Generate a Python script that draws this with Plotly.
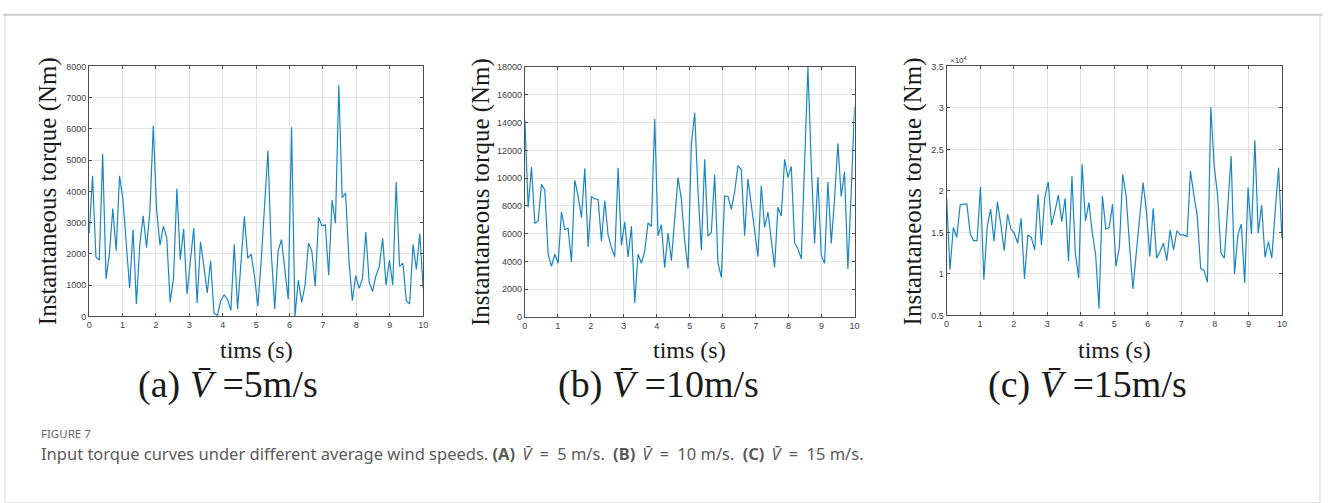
import numpy as np
import plotly.graph_objects as go

W, H = 1328, 503

# sample times (100 samples over 0-10 s)
t = np.linspace(0, 10, 100)

torque_a = [2650, 4500, 1900, 1800, 5200, 1200, 2000, 3450, 2100, 4500,
            3750, 2400, 900, 2780, 400, 2280, 3220, 2200, 3380, 6100,
            3400, 2280, 2890, 2510, 450, 1230, 4090, 1810, 2800, 710,
            1800, 2830, 420, 2390, 1600, 750, 1780, 100, 30, 500,
            690, 550, 190, 2300, 240, 1800, 3200, 1860, 1990, 1300,
            330, 1800, 3500, 5310, 2000, 240, 2090, 2460, 1500, 550,
            6050, 0, 1160, 450, 1000, 2350, 2090, 970, 3170, 2900,
            2930, 1320, 3720, 2980, 7400, 3800, 3950, 1800, 500, 1300,
            900, 1200, 2700, 1100, 800, 1300, 1600, 2500, 1000, 1800,
            1000, 4300, 1600, 1700, 500, 400, 2300, 1500, 2650, 900]

torque_b = [14200, 7880, 10800, 6750, 6900, 9550, 9150, 4520, 3650, 4520,
            3870, 7550, 6300, 6380, 3950, 9850, 8700, 7150, 10700, 5050,
            8650, 8500, 8480, 5450, 8380, 5900, 5000, 4330, 10750, 5150,
            6850, 4320, 6530, 1000, 4530, 3870, 4750, 6780, 6520, 14250,
            5850, 6650, 3550, 6050, 4050, 7000, 10050, 8470, 5500, 3500,
            12450, 14700, 9000, 4800, 11350, 5820, 6100, 10250, 3900, 2850,
            8720, 8680, 7750, 9000, 10900, 10600, 5850, 9950, 8000, 6200,
            4350, 9450, 6450, 7550, 5500, 3580, 7900, 7270, 11350, 10050,
            10850, 5350, 4920, 4180, 11000, 18000, 11000, 5300, 10080, 4450,
            3860, 9720, 5300, 8500, 12500, 8680, 10450, 3450, 9000, 15150]

torque_c = [19200, 10500, 15600, 14400, 18300, 18400, 18400, 14800, 14000, 14000,
            20500, 9300, 15700, 17800, 13900, 18700, 16000, 12800, 17200, 15400,
            14900, 13700, 16700, 9400, 14700, 14400, 12900, 19600, 13500, 19200,
            21100, 15900, 17600, 19500, 16300, 19100, 11500, 21800, 12500, 9500,
            23200, 16400, 18600, 15000, 12300, 5800, 19400, 15400, 15600, 18400,
            10900, 13200, 22000, 19400, 13500, 8200, 12500, 16500, 21000, 17500,
            12100, 17900, 11900, 12700, 13700, 11600, 15300, 12900, 15200, 14700,
            14700, 14500, 22400, 19500, 17000, 10700, 10400, 9000, 30100, 23000,
            19500, 12500, 11900, 18000, 24200, 10000, 14700, 16000, 8900, 20400,
            14800, 26100, 14900, 18300, 12000, 13900, 11900, 17500, 22800, 14300]

x_ticks = [0, 1, 2, 3, 4, 5, 6, 7, 8, 9, 10]
ya_ticks = [0, 1000, 2000, 3000, 4000, 5000, 6000, 7000, 8000]
yb_ticks = [0, 2000, 4000, 6000, 8000, 10000, 12000, 14000, 16000, 18000]
yc_ticks = [5000, 10000, 15000, 20000, 25000, 30000, 35000]
yc_ticktext = ["0.5", "1", "1.5", "2", "2.5", "3", "3.5"]

panel_labels = ["(a) <i>V\u0304</i> =5m/s", "(b) <i>V\u0304</i> =10m/s", "(c) <i>V\u0304</i> =15m/s"]
y_title = "Instantaneous torque (Nm)"
x_title = "tims (s)"

LINE = "#1a86c4"
AXC = "#4d4d4d"
GRID = "#e3e3e3"
TICKF = dict(family="Liberation Sans, Arial", size=9, color="#404040")

# panel pixel boxes: (x0, x1, ytop, ybottom)
boxes = [(86.7, 422.7, 62.7, 317.7), (525.0, 856.7, 63.3, 318.3), (949.3, 1286.7, 62.7, 316.7)]

fig = go.Figure()
series = [torque_a, torque_b, torque_c]
for i, s in enumerate(series):
    fig.add_trace(go.Scatter(x=t, y=s, mode="lines", line=dict(color=LINE, width=1.2),
                             xaxis="x" if i == 0 else f"x{i+1}",
                             yaxis="y" if i == 0 else f"y{i+1}", showlegend=False,
                             hoverinfo="skip"))

yranges = [[0, 8000], [0, 18000], [5000, 35000]]
yticks = [(ya_ticks, [str(v) for v in ya_ticks]), (yb_ticks, [str(v) for v in yb_ticks]),
          (yc_ticks, yc_ticktext)]

layout = dict(width=W, height=H, margin=dict(l=0, r=0, t=0, b=0),
              paper_bgcolor="white", plot_bgcolor="white", showlegend=False)
for i, (x0, x1, yt, yb) in enumerate(boxes):
    sfx = "" if i == 0 else str(i + 1)
    layout["xaxis" + sfx] = dict(domain=[x0 / W, x1 / W], range=[0, 10], anchor="y" + sfx,
                                 tickvals=x_ticks, ticktext=[str(v) for v in x_ticks],
                                 showgrid=True, gridcolor=GRID, gridwidth=1,
                                 showline=True, linecolor=AXC, linewidth=1, mirror="ticks",
                                 ticks="inside", ticklen=3, tickcolor=AXC, tickfont=TICKF,
                                 zeroline=False)
    layout["yaxis" + sfx] = dict(domain=[1 - yb / H, 1 - yt / H], range=yranges[i], anchor="x" + sfx,
                                 tickvals=yticks[i][0], ticktext=yticks[i][1],
                                 showgrid=True, gridcolor=GRID, gridwidth=1,
                                 showline=True, linecolor=AXC, linewidth=1, mirror="ticks",
                                 ticks="inside", ticklen=3, tickcolor=AXC, tickfont=TICKF,
                                 zeroline=False)
fig.update_layout(**layout)

ann = []
ytitle_x = [46, 481, 915]
label_x = [226, 659, 1091]
for i, (x0, x1, yt, yb) in enumerate(boxes):
    ann.append(dict(text=y_title, x=ytitle_x[i] / W, y=1 - ((yt + yb) / 2) / H, xref="paper", yref="paper",
                    textangle=-90, showarrow=False, xanchor="center", yanchor="middle",
                    font=dict(family="Liberation Serif, Times New Roman", size=25, color="#1a1a1a")))
    ann.append(dict(text=x_title, x=((x0 + x1) / 2) / W, y=1 - 352 / H, xref="paper", yref="paper",
                    showarrow=False, xanchor="center", yanchor="middle",
                    font=dict(family="Liberation Serif, Times New Roman", size=24, color="#1a1a1a")))
    ann.append(dict(text=panel_labels[i], x=label_x[i] / W, y=1 - 387 / H, xref="paper", yref="paper",
                    showarrow=False, xanchor="center", yanchor="middle",
                    font=dict(family="Liberation Serif, Times New Roman", size=38, color="#1a1a1a")))

ann.append(dict(text="\u00d710<sup>4</sup>", x=951 / W, y=1 - 56 / H, xref="paper", yref="paper",
                showarrow=False, xanchor="left", yanchor="middle",
                font=dict(family="Liberation Sans, Arial", size=8, color="#404040")))
ann.append(dict(text="FIGURE 7", x=36 / W, y=1 - 437 / H, xref="paper", yref="paper",
                showarrow=False, xanchor="left", yanchor="middle",
                font=dict(family="Noto Sans", size=11.5, color="#666666")))
en = "\u2002"
th = "\u2009"
ann.append(dict(text="Input torque curves under different average wind speeds. "
                     f"<b>(A)</b>{th} <i>V\u0304</i>{en}={en}5 m/s.{en}"
                     f"<b>(B)</b>{th} <i>V\u0304</i>{en}={en}10 m/s.{en}"
                     f"<b>(C)</b>{th} <i>V\u0304</i>{en}={en}15 m/s.",
                x=36 / W, y=1 - 458 / H, xref="paper", yref="paper",
                showarrow=False, xanchor="left", yanchor="middle",
                font=dict(family="Noto Sans", size=16.5, color="#5a5a5a")))
fig.update_layout(annotations=ann)

# outer frame
fig.add_shape(type="rect", xref="paper", yref="paper", x0=2 / W, x1=1325 / W, y0=-0.01, y1=1 - 10 / H,
              line=dict(color="#d4d4d4", width=1), fillcolor="rgba(0,0,0,0)", layer="below")
fig.add_shape(type="line", xref="paper", yref="paper", x0=0, x1=1, y0=1 - 10 / H, y1=1 - 10 / H,
              line=dict(color="#cfcfcf", width=2), layer="below")

fig.write_html("out.html", config={"displayModeBar": False},
               post_script="document.body.style.margin='0px';")
